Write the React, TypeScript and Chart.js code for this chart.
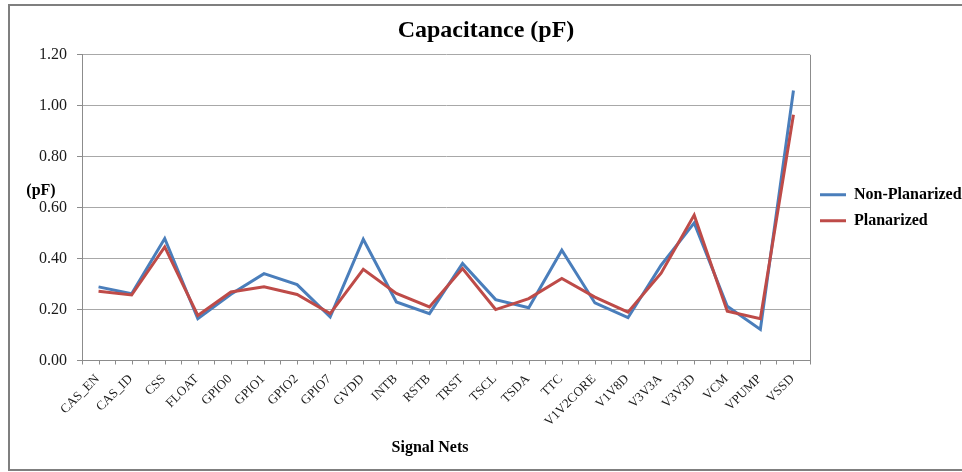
import React, { useEffect, useRef } from 'react';
import { Chart, registerables } from 'chart.js';

Chart.register(...registerables);

const categories = [
  'CAS_EN', 'CAS_ID', 'CSS', 'FLOAT', 'GPIO0', 'GPIO1', 'GPIO2', 'GPIO7', 'GVDD', 'INTB', 'RSTB',
  'TRST', 'TSCL', 'TSDA', 'TTC', 'V1V2CORE', 'V1V8D', 'V3V3A', 'V3V3D', 'VCM', 'VPUMP', 'VSSD',
];
const nonPlanarized = [
  0.289, 0.262, 0.479, 0.164, 0.26, 0.341, 0.298, 0.171, 0.476, 0.23, 0.184,
  0.381, 0.239, 0.207, 0.433, 0.226, 0.168, 0.374, 0.54, 0.213, 0.122, 1.06,
];
const planarized = [
  0.272, 0.257, 0.446, 0.177, 0.269, 0.289, 0.259, 0.184, 0.358, 0.263, 0.21,
  0.361, 0.2, 0.243, 0.322, 0.249, 0.19, 0.343, 0.571, 0.193, 0.164, 0.965,
];
const seriesNames = ['Non-Planarized', 'Planarized'];
const yMin = 0;
const yMax = 1.2;
const yStep = 0.2;
const chartTitle = 'Capacitance (pF)';
const xAxisTitle = 'Signal Nets';
const yAxisTitle = '(pF)';

const SERIF = "'Liberation Serif', 'Times New Roman', serif";
const AXIS_GRAY = '#8c8c8c';
const GRID_GRAY = '#a8a8a8';

const decorPlugin = {
  id: 'decor',
  beforeDatasetsDraw(chart: any) {
    const { ctx, chartArea: a } = chart;
    const xs = chart.scales.x;
    ctx.save();
    ctx.strokeStyle = AXIS_GRAY;
    ctx.lineWidth = 1;
    ctx.beginPath();
    const rx = Math.round(a.right) + 0.5;
    ctx.moveTo(rx, a.top);
    ctx.lineTo(rx, a.bottom);
    for (let i = 0; i < categories.length; i++) {
      const x = Math.round(xs.getPixelForValue(i)) + 0.5;
      ctx.moveTo(x, a.bottom);
      ctx.lineTo(x, a.bottom + 4);
    }
    ctx.stroke();
    ctx.restore();
  },
  afterDraw(chart: any) {
    const { ctx, chartArea: a } = chart;
    ctx.save();
    ctx.fillStyle = '#000';
    ctx.font = `bold 16px ${SERIF}`;
    ctx.textAlign = 'center';
    ctx.textBaseline = 'middle';
    ctx.fillText(xAxisTitle, (a.left + a.right) / 2 - 16, chart.height - 21);
    ctx.fillText(yAxisTitle, a.left - 41, a.top + (a.bottom - a.top) * 0.445);
    ctx.restore();
  },
};

export default function App() {
  const ref = useRef<HTMLCanvasElement | null>(null);

  useEffect(() => {
    if (!ref.current) return;
    const chart = new Chart(ref.current, {
      type: 'line',
      data: {
        labels: categories,
        datasets: [
          {
            label: seriesNames[0],
            data: nonPlanarized,
            borderColor: '#4A7EBB',
            backgroundColor: '#4A7EBB',
            borderWidth: 3,
            pointRadius: 0,
            tension: 0,
            order: 1,
          },
          {
            label: seriesNames[1],
            data: planarized,
            borderColor: '#BE4B48',
            backgroundColor: '#BE4B48',
            borderWidth: 3,
            pointRadius: 0,
            tension: 0,
            order: 0,
          },
        ],
      },
      options: {
        responsive: false,
        animation: false,
        layout: { padding: 0 },
        plugins: {
          title: {
            display: true,
            text: chartTitle,
            color: '#000',
            font: { family: SERIF, size: 24, weight: 'bold' },
            padding: { top: 10, bottom: 10 },
          },
          legend: {
            position: 'right',
            align: 'center',
            fullSize: false,
            maxWidth: 152,
            labels: {
              usePointStyle: true,
              pointStyle: 'line',
              pointStyleWidth: 26,
              padding: 10,
              color: '#000',
              font: { family: SERIF, size: 16, weight: 'bold' },
              sort: (a: any, b: any) => a.datasetIndex - b.datasetIndex,
            },
          },
          tooltip: { enabled: false },
        },
        scales: {
          x: {
            type: 'category',
            offset: true,
            grid: {
              display: true,
              drawOnChartArea: false,
              drawTicks: true,
              tickLength: 4,
              offset: true,
              color: AXIS_GRAY,
            },
            border: { display: true, color: AXIS_GRAY },
            ticks: {
              autoSkip: false,
              maxRotation: 45,
              minRotation: 45,
              padding: 7,
              labelOffset: -1,
              color: '#1a1a1a',
              font: { family: SERIF, size: 13 },
            },
            afterFit: (s: any) => {
              s.height = 108.5;
            },
          },
          y: {
            min: yMin,
            max: yMax,
            grid: { color: GRID_GRAY, tickLength: 5, drawTicks: true, tickColor: AXIS_GRAY },
            border: { display: true, color: AXIS_GRAY },
            ticks: {
              stepSize: yStep,
              padding: 10,
              color: '#1a1a1a',
              font: { family: SERIF, size: 16 },
              callback: (v: any) => Number(v).toFixed(2),
            },
            afterFit: (s: any) => {
              s.width = 72;
            },
          },
        },
      },
      plugins: [decorPlugin],
    });
    return () => chart.destroy();
  }, []);

  return (
    <div
      style={{
        position: 'absolute',
        left: 8,
        top: 4,
        width: 954,
        height: 467,
        boxSizing: 'border-box',
        borderLeft: '2px solid #7f7f7f',
        borderTop: '2px solid #7f7f7f',
        borderBottom: '2px solid #7f7f7f',
        background: '#fff',
      }}
    >
      <canvas ref={ref} width={952} height={463} style={{ display: 'block' }} />
    </div>
  );
}
